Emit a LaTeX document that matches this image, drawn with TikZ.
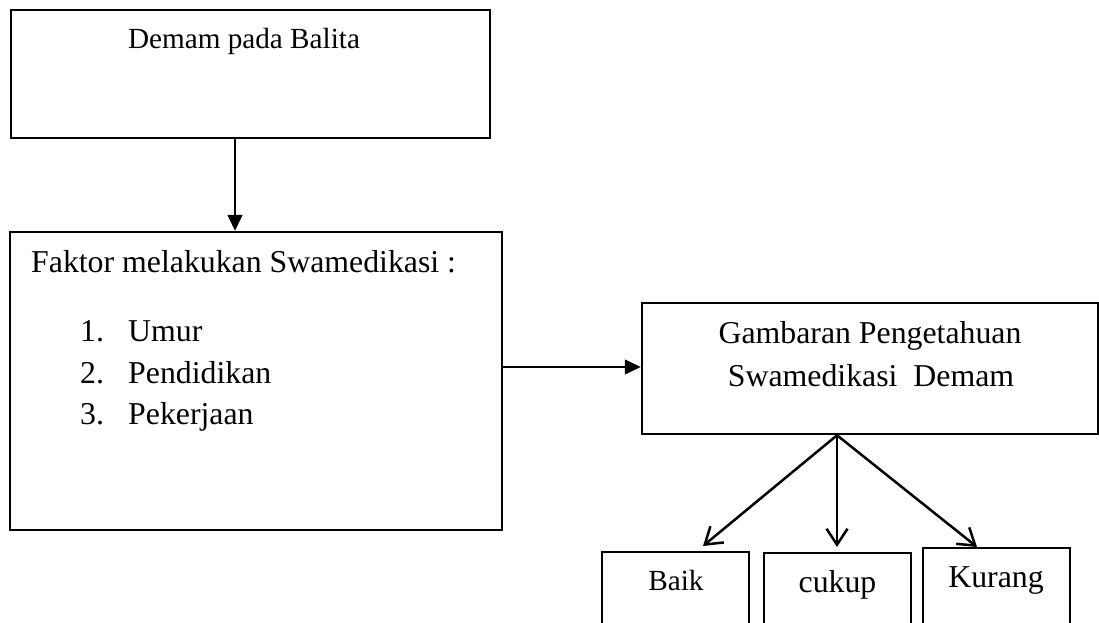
\documentclass[tikz,border=0pt]{standalone}
\usepackage{fontspec}
\setmainfont{Liberation Serif}
\usetikzlibrary{arrows.meta}
\begin{document}
\begin{tikzpicture}[x=1pt,y=-1pt,
  box/.style={draw=black, line width=2.5pt, rectangle, inner sep=0pt},
  txt/.style={inner sep=0pt, font=\fontsize{31.8}{41.5}\selectfont},
  smalltxt/.style={inner sep=0pt, font=\fontsize{29.2}{38}\selectfont},
  filledarrow/.style={line width=1.5pt, -{Triangle[width=15pt,length=16pt]}},
  openarrow/.style={line width=2.5pt, -{Straight Barb[width=21pt,length=16pt]}}
]
\useasboundingbox (0,0) rectangle (1099,622);
\clip (0,0) rectangle (1099,622);
% boxes
\node[box, minimum width=479pt, minimum height=128pt] (b1) at (250.5,74) {};
\node[box, minimum width=492pt, minimum height=298pt] (b2) at (256,381) {};
\node[box, minimum width=456pt, minimum height=131pt] (b3) at (870,368.5) {};
\node[box, minimum width=147pt, minimum height=90pt] (baik) at (675.5,597) {};
\node[box, minimum width=147pt, minimum height=90pt] (cukup) at (837.5,598) {};
\node[box, minimum width=147pt, minimum height=94pt] (kurang) at (996.5,595) {};
% texts
\node[smalltxt, anchor=base] (t1) at (244,48) {Demam pada Balita};
\node[txt, anchor=base west] (t2) at (31,272) {Faktor melakukan Swamedikasi :};
\node[txt, anchor=base west] (n1) at (80,341) {1.};
\node[txt, anchor=base west] (l1) at (128,341) {Umur};
\node[txt, anchor=base west] (n2) at (80,383) {2.};
\node[txt, anchor=base west] (l2) at (128,383) {Pendidikan};
\node[txt, anchor=base west] (n3) at (80,424) {3.};
\node[txt, anchor=base west] (l3) at (128,424) {Pekerjaan};
\node[txt, anchor=base] (t3a) at (870,343) {Gambaran Pengetahuan};
\node[txt, anchor=base] (t3b) at (871,386) {Swamedikasi\ \ Demam};
\node[smalltxt, anchor=base] (tb) at (676,590) {Baik};
\node[txt, anchor=base] (tc) at (837.5,592) {cukup};
\node[txt, anchor=base] (tk) at (996,587) {Kurang};
% connectors
\coordinate (c1) at (235,0);
\coordinate (c2) at (0,367);
\coordinate (hub) at (837,434);
\draw[filledarrow] (b1.south -| c1) -- (b2.north -| c1);
\draw[filledarrow] (b2.east |- c2) -- (b3.west |- c2);
\coordinate (eb) at (703,546);
\coordinate (ec) at (837,547);
\coordinate (ek) at (977,547);
\draw[openarrow] (b3.south -| hub) -- (eb);
\draw[openarrow] (b3.south -| hub) -- (ec);
\draw[openarrow] (b3.south -| hub) -- (ek);
\end{tikzpicture}
\end{document}
